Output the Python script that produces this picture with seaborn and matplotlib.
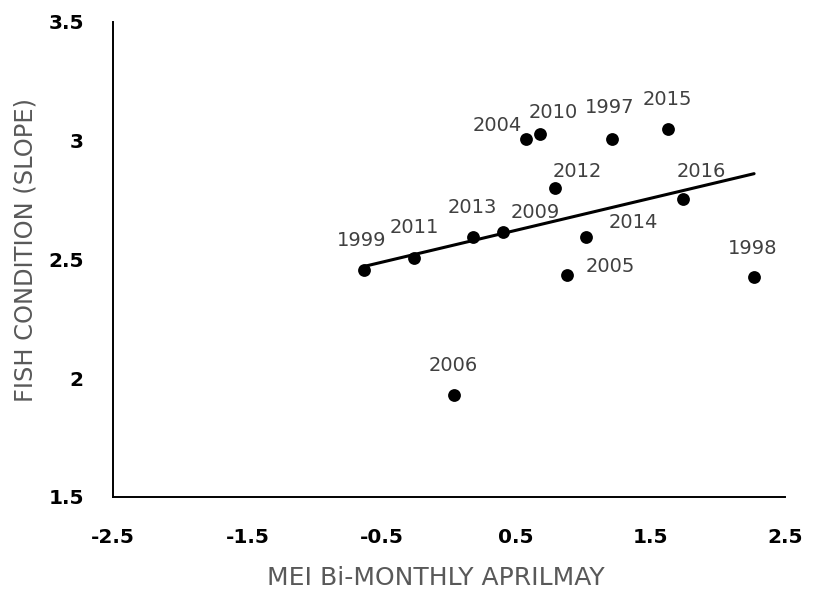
import matplotlib
matplotlib.use("Agg")
import matplotlib.pyplot as plt
import seaborn as sns
import pandas as pd

# Survey years with the MEI index (April-May) and fish condition slope
years = ["1999", "2011", "2013", "2009", "2004", "2010", "2012",
         "1997", "2014", "2005", "2015", "2016", "1998", "2006"]
mei = [-0.63, -0.26, 0.18, 0.40, 0.57, 0.68, 0.79,
       1.21, 1.02, 0.88, 1.63, 1.74, 2.27, 0.04]
condition = [2.456, 2.505, 2.596, 2.617, 3.007, 3.027, 2.802,
             3.007, 2.593, 2.433, 3.048, 2.753, 2.425, 1.929]

x_ticks = [-2.5, -1.5, -0.5, 0.5, 1.5, 2.5]
x_tick_labels = ["-2.5", "-1.5", "-0.5", "0.5", "1.5", "2.5"]
y_ticks = [1.5, 2, 2.5, 3, 3.5]
y_tick_labels = ["1.5", "2", "2.5", "3", "3.5"]

# where each year label sits relative to its point (pixels, up positive)
label_offsets = {
    "1999": (-3, 31), "2011": (0, 32), "2013": (-1, 31), "2009": (32, 21),
    "2004": (-28, 15), "2010": (13, 23), "2012": (22, 18), "1997": (-2, 33),
    "2014": (47, 16), "2005": (43, 10), "2015": (-1, 31), "2016": (18, 29),
    "1998": (-1, 30), "2006": (-1, 31),
}

df = pd.DataFrame({"year": years, "mei": mei, "condition": condition})

sns.set_theme(style="white")
plt.rcParams["font.family"] = ["DejaVu Sans"]

fig = plt.figure(figsize=(8.16, 5.92), dpi=100)
ax = fig.add_axes([113 / 816, 1 - 497 / 592, 672 / 816, 475 / 592])

# least-squares trend line over the data range, then the points on top
sns.regplot(data=df, x="mei", y="condition", scatter=False, ci=None,
            color="black", line_kws={"linewidth": 2.2}, ax=ax)
sns.scatterplot(data=df, x="mei", y="condition", color="black", s=85,
                edgecolor="black", linewidth=0, ax=ax, zorder=3)

for yr, xv, yv in zip(years, mei, condition):
    dx, dy = label_offsets[yr]
    ax.annotate(yr, (xv, yv), xytext=(dx, dy - 7), textcoords="offset pixels",
                ha="center", va="baseline", fontsize=14, color="#404040")

ax.set_xlim(-2.5, 2.5)
ax.set_ylim(1.5, 3.5)
ax.set_xticks(x_ticks)
ax.set_xticklabels(x_tick_labels)
ax.set_yticks(y_ticks)
ax.set_yticklabels(y_tick_labels)
ax.tick_params(axis="both", length=0, labelsize=14.5, labelcolor="black")
ax.tick_params(axis="x", pad=22)
ax.tick_params(axis="y", pad=21)
for lbl in ax.get_xticklabels() + ax.get_yticklabels():
    lbl.set_fontweight("bold")

for side in ("top", "right"):
    ax.spines[side].set_visible(False)
for side in ("left", "bottom"):
    ax.spines[side].set_color("black")
    ax.spines[side].set_linewidth(1.4)

ax.set_xlabel("MEI Bi-MONTHLY APRILMAY", fontsize=18, color="#595959")
ax.set_ylabel("FISH CONDITION (SLOPE)", fontsize=17.4, color="#595959")
ax.xaxis.set_label_coords((436 - 113) / 672, (497 - 578) / 475)
ax.xaxis.label.set_va("center")
ax.yaxis.set_label_coords((25 - 113) / 672, (497 - 250) / 475)
ax.yaxis.label.set_va("center")

fig.savefig("out.png", dpi=100, facecolor="white")
